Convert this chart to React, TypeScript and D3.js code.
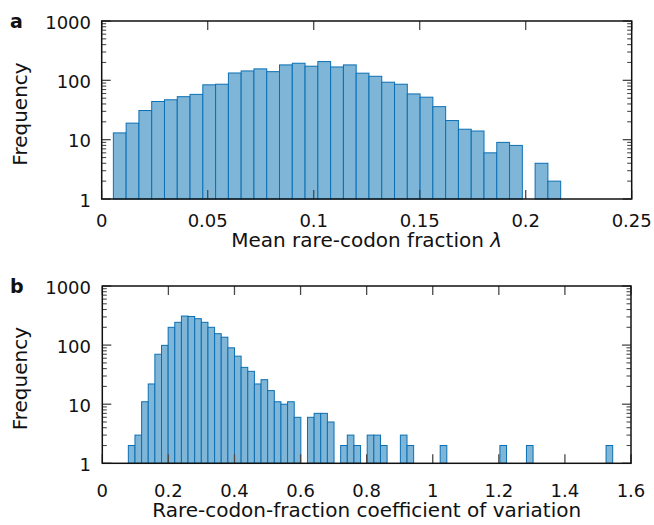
import React from "react";
import * as d3 from "d3";

// Panel a: mean rare-codon fraction histogram (35 equal bins)
const lambdaCounts = [13, 19, 31, 44, 47, 53, 58, 84, 86, 133, 144, 156, 140, 182, 194, 173, 207, 168, 182, 132, 117, 93, 86, 59, 52, 36, 21, 15, 14, 6, 9, 8, 0, 4, 2];
const lambdaRange = [0.0055, 0.2165];
const lambdaTicks = [0, 0.05, 0.1, 0.15, 0.2, 0.25];

// Panel b: coefficient of variation histogram (73 equal bins)
const cvCounts = [2, 3, 11, 22, 70, 99, 200, 243, 310, 305, 280, 243, 200, 156, 136, 90, 65, 42, 36, 22, 26, 17, 11, 10, 11, 6, 0, 6, 7, 7, 5, 0, 2, 3, 2, 0, 3, 3, 2, 0, 0, 3, 2, 0, 0, 0, 0, 2, 0, 0, 0, 0, 0, 0, 0, 0, 2, 0, 0, 0, 2, 0, 0, 0, 0, 0, 0, 0, 0, 0, 0, 0, 2];
const cvRange = [0.0788, 1.5446];
const cvTicks = [0, 0.2, 0.4, 0.6, 0.8, 1, 1.2, 1.4, 1.6];

const yTicks = [1, 10, 100, 1000];

const FONT = "'DejaVu Sans', sans-serif";
const FILL = "#7fb6d7";
const STROKE = "#0b6fb4";

type PanelProps = {
  counts: number[];
  range: number[];
  xTicks: number[];
  xDomain: number[];
  letter: string;
  xLabel: React.ReactNode;
  box: { left: number; right: number; top: number; bottom: number };
  tickLabelDy: number;
  xLabelDy: number;
};

function Panel({ counts, range, xTicks, xDomain, letter, xLabel, box, tickLabelDy, xLabelDy }: PanelProps) {
  const x = d3.scaleLinear().domain(xDomain).range([box.left, box.right]);
  const y = d3.scaleLog().domain([1, 1000]).range([box.bottom, box.top]);
  const n = counts.length;
  const bw = (range[1] - range[0]) / n;
  const minor: number[] = [];
  [1, 10, 100].forEach((d) => {
    for (let k = 2; k <= 9; k++) minor.push(d * k);
  });
  const tickColor = "#4a4a4a";
  const majorLen = 9;
  const minorLen = 4.5;
  return (
    <g>
      {counts.map((c, i) =>
        c > 1 ? (
          <rect
            key={i}
            x={x(range[0] + i * bw)}
            y={y(c)}
            width={x(range[0] + (i + 1) * bw) - x(range[0] + i * bw)}
            height={y(1) - y(c)}
            fill={FILL}
            stroke={STROKE}
            strokeWidth={1}
          />
        ) : null
      )}
      {/* x ticks top & bottom */}
      {xTicks.map((t) => (
        <g key={"xt" + t}>
          <line x1={x(t)} x2={x(t)} y1={box.bottom} y2={box.bottom - majorLen} stroke={tickColor} strokeWidth={1.3} />
          <line x1={x(t)} x2={x(t)} y1={box.top} y2={box.top + majorLen} stroke={tickColor} strokeWidth={1.3} />
          <text x={x(t)} y={box.bottom + tickLabelDy} textAnchor="middle" fontFamily={FONT} fontSize={18} fill="#111">
            {String(t)}
          </text>
        </g>
      ))}
      {/* y major ticks */}
      {yTicks.map((t) => (
        <g key={"yt" + t}>
          <line x1={box.left} x2={box.left + majorLen} y1={y(t)} y2={y(t)} stroke={tickColor} strokeWidth={1.3} />
          <line x1={box.right} x2={box.right - majorLen} y1={y(t)} y2={y(t)} stroke={tickColor} strokeWidth={1.3} />
          <text x={91} y={y(t) + 7.5} textAnchor="end" fontFamily={FONT} fontSize={18} fill="#111">
            {String(t)}
          </text>
        </g>
      ))}
      {minor.map((t) => (
        <g key={"ym" + t}>
          <line x1={box.left} x2={box.left + minorLen} y1={y(t)} y2={y(t)} stroke={tickColor} strokeWidth={1.1} />
          <line x1={box.right} x2={box.right - minorLen} y1={y(t)} y2={y(t)} stroke={tickColor} strokeWidth={1.1} />
        </g>
      ))}
      <rect
        x={box.left}
        y={box.top}
        width={box.right - box.left}
        height={box.bottom - box.top}
        fill="none"
        stroke="#111"
        strokeWidth={1.5}
      />
      <text
        transform={`translate(27,${(box.top + box.bottom) / 2 + 4}) rotate(-90)`}
        textAnchor="middle"
        fontFamily={FONT}
        fontSize={20}
        fill="#111"
      >
        Frequency
      </text>
      <text x={(box.left + box.right) / 2} y={box.bottom + xLabelDy} textAnchor="middle" fontFamily={FONT} fontSize={20} fill="#111">
        {xLabel}
      </text>
      <text x={10} y={box.top + 7} fontFamily={FONT} fontSize={19} fontWeight="bold" fill="#111">
        {letter}
      </text>
    </g>
  );
}

export default function App() {
  return (
    <svg
      width={654}
      height={525}
      style={{ position: "absolute", left: 0, top: 0, background: "#fff" }}
    >
      <Panel
        counts={lambdaCounts}
        range={lambdaRange}
        xTicks={lambdaTicks}
        xDomain={[0, 0.25]}
        letter="a"
        xLabel={
          <>
            Mean rare-codon fraction <tspan fontStyle="italic">λ</tspan>
          </>
        }
        box={{ left: 101.7, right: 631.7, top: 21, bottom: 199 }}
        tickLabelDy={27.7}
        xLabelDy={47.7}
      />
      <Panel
        counts={cvCounts}
        range={cvRange}
        xTicks={cvTicks}
        xDomain={[0, 1.6]}
        letter="b"
        xLabel="Rare-codon-fraction coefficient of variation"
        box={{ left: 102.3, right: 631, top: 286, bottom: 463.3 }}
        tickLabelDy={33.4}
        xLabelDy={53.4}
      />
    </svg>
  );
}
